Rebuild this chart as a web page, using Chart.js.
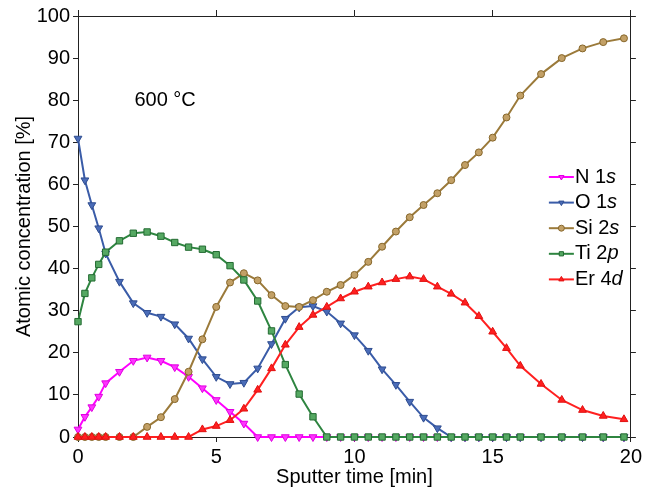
<!DOCTYPE html>
<html>
<head>
<meta charset="utf-8">
<script src="https://cdn.jsdelivr.net/npm/chart.js@4/dist/chart.umd.min.js"></script>
<style>
  html, body { margin: 0; padding: 0; background: #fff; }
</style>
</head>
<body>
<canvas id="depth" width="645" height="491"></canvas>
<script>
// sputter depth profile, 600 °C sample
const sputterTime = [0, 0.25, 0.5, 0.75, 1, 1.5, 2, 2.5, 3, 3.5, 4, 4.5, 5, 5.5, 6, 6.5, 7, 7.5, 8, 8.5,
  9, 9.5, 10, 10.5, 11, 11.5, 12, 12.5, 13, 13.5, 14, 14.5, 15, 15.5, 16, 16.75, 17.5, 18.25, 19, 19.75];

const n1s = [1.8, 4.8, 7.1, 9.6, 12.8, 15.5, 18.1, 18.9, 18.1, 16.6, 14.3, 11.6, 8.8, 6.0, 3.2, 0, 0, 0, 0, 0,
  0, 0, 0, 0, 0, 0, 0, 0, 0, 0, 0, 0, 0, 0, 0, 0, 0, 0, 0, 0];
const o1s = [70.9, 61.0, 55.1, 49.6, 43.6, 36.9, 31.8, 29.5, 28.6, 26.8, 23.4, 18.5, 14.3, 12.6, 12.9, 16.3, 22.1, 28.1, 30.8, 31.1,
  29.8, 27.0, 24.2, 20.5, 16.1, 12.4, 8.4, 4.6, 2.1, 0, 0, 0, 0, 0, 0, 0, 0, 0, 0, 0];
const si2s = [0, 0, 0, 0, 0, 0, 0, 2.4, 4.7, 9.0, 15.5, 23.2, 30.9, 36.7, 38.9, 37.2, 33.7, 31.1, 30.9, 32.5,
  34.5, 36.1, 38.5, 41.6, 45.2, 48.8, 52.2, 55.1, 57.9, 61.0, 64.6, 67.6, 71.1, 75.9, 81.1, 86.2, 90.0, 92.3, 93.8, 94.7];
const ti2p = [27.4, 34.1, 37.8, 41.0, 43.9, 46.6, 48.4, 48.7, 47.7, 46.2, 45.1, 44.6, 43.3, 40.7, 37.3, 32.3, 25.2, 17.2, 10.2, 4.8,
  0, 0, 0, 0, 0, 0, 0, 0, 0, 0, 0, 0, 0, 0, 0, 0, 0, 0, 0, 0];
const er4d = [0, 0, 0, 0, 0, 0, 0, 0, 0, 0, 0, 1.8, 2.6, 4.0, 6.7, 11.2, 16.3, 21.9, 26.1, 29.0,
  30.9, 32.9, 34.5, 35.7, 36.7, 37.5, 38.1, 37.5, 35.7, 34.0, 31.9, 28.7, 25.0, 21.1, 16.9, 12.6, 8.8, 6.4, 5.0, 4.2];

const seriesNames = ['N 1', 'O 1', 'Si 2', 'Ti 2', 'Er 4'];
const seriesItalic = ['s', 's', 's', 'p', 'd'];
const xTicks = [0, 5, 10, 15, 20];
const yTicks = [0, 10, 20, 30, 40, 50, 60, 70, 80, 90, 100];
const tempLabel = '600 °C';

const FONT = '"Liberation Sans", Arial, sans-serif';
Chart.defaults.font.family = FONT;
Chart.defaults.font.size = 20;
Chart.defaults.color = '#000';

function pts(vals) {
  return vals.map((v, i) => ({x: sputterTime[i], y: v}));
}

const styles = [
  {line: '#ff00ff', fill: '#ff33ff', edge: '#e000e0', shape: 'triangle', rot: 180, r: 4.5},
  {line: '#3a5ca8', fill: '#4a6cb8', edge: '#2f4d90', shape: 'triangle', rot: 180, r: 4.5},
  {line: '#9b7a3a', fill: '#c2a066', edge: '#86662a', shape: 'circle', rot: 0, r: 3.5},
  {line: '#2e8540', fill: '#55a862', edge: '#236b32', shape: 'rect', rot: 0, r: 4.5},
  {line: '#ff2020', fill: '#ff2020', edge: '#e01010', shape: 'triangle', rot: 0, r: 4.5}
];
const allSeries = [n1s, o1s, si2s, ti2p, er4d];
const drawOrder = [4, 3, 2, 1, 0];

const datasets = allSeries.map((vals, i) => ({
  label: seriesNames[i] + seriesItalic[i],
  data: pts(vals),
  borderColor: styles[i].line,
  borderWidth: 2,
  backgroundColor: styles[i].fill,
  pointStyle: styles[i].shape,
  rotation: styles[i].rot,
  pointRadius: styles[i].r,
  pointBackgroundColor: styles[i].fill,
  pointBorderColor: styles[i].edge,
  pointBorderWidth: 1,
  tension: 0,
  clip: false,
  order: drawOrder[i]
}));

// legend with italic orbital letter + temperature note
const overlay = {
  id: 'overlay',
  afterDatasetsDraw(chart) {
    const {ctx, chartArea: a, scales} = chart;
    ctx.save();
    ctx.fillStyle = '#000';
    ctx.font = '20px ' + FONT;
    ctx.textAlign = 'center';
    ctx.textBaseline = 'middle';
    ctx.fillText(tempLabel, scales.x.getPixelForValue(3.15), scales.y.getPixelForValue(80));

    const x0 = a.right - 82;
    const y0 = a.top + 161;
    const step = 25.6;
    ctx.textAlign = 'left';
    seriesNames.forEach((name, i) => {
      const st = styles[i];
      const yy = y0 + i * step;
      ctx.strokeStyle = st.line;
      ctx.lineWidth = 2;
      ctx.beginPath();
      ctx.moveTo(x0, yy);
      ctx.lineTo(x0 + 25, yy);
      ctx.stroke();
      ctx.fillStyle = st.fill;
      ctx.strokeStyle = st.edge;
      ctx.lineWidth = 1;
      Chart.helpers.drawPoint(ctx, {pointStyle: st.shape, rotation: st.rot, radius: 3, borderWidth: 1}, x0 + 12.5, yy);
      ctx.fillStyle = '#000';
      ctx.font = '20px ' + FONT;
      ctx.fillText(name, x0 + 26, yy);
      const w = ctx.measureText(name).width;
      ctx.font = 'italic 20px ' + FONT;
      ctx.fillText(seriesItalic[i], x0 + 26 + w, yy);
    });
    ctx.restore();
  }
};

const axisLine = {display: true, color: '#222', width: 1};

new Chart(document.getElementById('depth'), {
  type: 'line',
  data: {datasets},
  options: {
    responsive: false,
    animation: false,
    layout: {padding: 0},
    plugins: {legend: {display: false}, tooltip: {enabled: false}},
    scales: {
      x: {
        type: 'linear', position: 'bottom', min: 0, max: 20,
        afterBuildTicks: s => { s.ticks = xTicks.map(v => ({value: v})); },
        ticks: {padding: 3, maxRotation: 0},
        grid: {drawOnChartArea: false, tickLength: 5, color: '#222'},
        border: axisLine,
        title: {display: true, text: 'Sputter time [min]', padding: {top: 0, bottom: 2}},
        afterFit: s => { s.height = 54; }
      },
      x2: {
        type: 'linear', position: 'top', min: 0, max: 20,
        afterBuildTicks: s => { s.ticks = xTicks.map(v => ({value: v})); },
        ticks: {display: false},
        grid: {drawOnChartArea: false, tickLength: 6, color: '#222'},
        border: axisLine,
        afterFit: s => { s.height = 16; }
      },
      y: {
        type: 'linear', position: 'left', min: 0, max: 100,
        afterBuildTicks: s => { s.ticks = yTicks.map(v => ({value: v})); },
        ticks: {padding: 3},
        grid: {drawOnChartArea: false, tickLength: 5, color: '#222'},
        border: axisLine,
        title: {display: true, text: 'Atomic concentration [%]', padding: {top: 12, bottom: 0}},
        afterFit: s => { s.width = 78; }
      },
      y2: {
        type: 'linear', position: 'right', min: 0, max: 100,
        afterBuildTicks: s => { s.ticks = yTicks.map(v => ({value: v})); },
        ticks: {display: false},
        grid: {drawOnChartArea: false, tickLength: 5, color: '#222'},
        border: axisLine,
        afterFit: s => { s.width = 11; }
      }
    }
  },
  plugins: [overlay]
});
</script>
</body>
</html>
